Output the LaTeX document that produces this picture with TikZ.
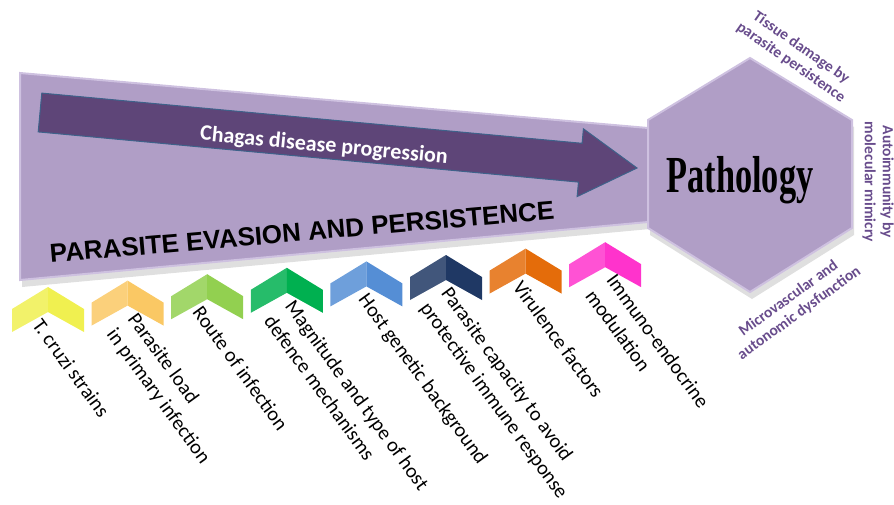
\documentclass[tikz,border=0pt]{standalone}
\usepackage{fontspec}
\setmainfont{Carlito}
\newfontfamily\headfont{Liberation Sans}
\newfontfamily\pathfont{Liberation Serif}
\usetikzlibrary{shadows}
\definecolor{white}{RGB}{255,255,255}
\definecolor{black}{RGB}{0,0,0}
\definecolor{evasion_purple}{RGB}{176,158,198}
\definecolor{evasion_light}{RGB}{206,193,224}
\definecolor{progress_purple}{RGB}{94,69,120}
\definecolor{progress_edge}{RGB}{62,98,138}
\definecolor{outcome_purple}{RGB}{104,76,140}
\definecolor{strain_yellow}{RGB}{240,240,80}
\definecolor{load_orange}{RGB}{250,200,100}
\definecolor{route_green}{RGB}{146,208,80}
\definecolor{host_green}{RGB}{0,176,80}
\definecolor{genetic_blue}{RGB}{85,142,213}
\definecolor{capacity_navy}{RGB}{31,56,100}
\definecolor{virulence_orange}{RGB}{228,108,10}
\definecolor{immuno_pink}{RGB}{255,51,204}

\tikzset{
	shaded/.style={fill=evasion_purple,draw=evasion_light,line width=2pt,drop shadow={opacity=0.25,shadow xshift=2pt,shadow yshift=-7pt}},
	factor/.style={rotate=-54,anchor=north west,align=left,inner sep=0pt,font=\fontsize{20.3}{26}\selectfont},
	outcome/.style={text=outcome_purple,align=center,inner sep=0pt,font=\bfseries\fontsize{15.5}{18}\selectfont}
}

\begin{document}
\begin{tikzpicture}[x=1pt,y=-1pt]
	\useasboundingbox (0,0) rectangle (894,504);

	\path[shaded] (20,73) -- (648,128) -- (648,222) -- (20,280) -- cycle;
	\path[shaded] (750,58) -- (852,120) -- (852,228) -- (750,292) -- (648,228) -- (648,120) -- cycle;

	\path[fill=progress_purple,draw=progress_edge,line width=1pt] (41.8,93.1) -- (582.1,143.3) -- (583.4,128.8) -- (637,168) -- (577.1,196.6) -- (578.5,182.1) -- (38.2,131.9) -- cycle;

	\node[rotate=-5.5,text=white,font=\bfseries\fontsize{22}{22}\selectfont] (progression) at (324,146) {Chagas disease progression};
	\node[rotate=5,font=\headfont\bfseries\fontsize{26}{26}\selectfont] (evasion) at (302,232) {PARASITE EVASION AND PERSISTENCE};
	\node[xscale=0.66,font=\pathfont\bfseries\fontsize{52}{52}\selectfont] (pathology) at (740,180) {Pathology};

	\node[outcome,rotate=-35] (damage) at (796,55) {Tissue damage by\\parasite persistence};
	\node[outcome,rotate=-90] (mimicry) at (878,182) {Autoimmunity by\\molecular mimicry};
	\node[outcome,rotate=36] (dysfunction) at (794,306) {Microvascular and\\autonomic dysfunction};

	\foreach \i/\col in {0/strain_yellow,1/load_orange,2/route_green,3/host_green,4/genetic_blue,5/capacity_navy,6/virulence_orange,7/immuno_pink} {
		\pgfmathsetmacro{\ax}{48+79.6*\i}
		\pgfmathsetmacro{\ay}{287-6.4*\i}
		\fill[\col!85!white] (\ax-36,\ay+22) -- (\ax,\ay) -- (\ax,\ay+25) -- (\ax-36,\ay+45) -- cycle;
		\fill[\col] (\ax,\ay) -- (\ax+36,\ay+22) -- (\ax+36,\ay+45) -- (\ax,\ay+25) -- cycle;
	}

	\foreach \i/\dx/\txt in {0/-5/{T. cruzi strains},1/11/{Parasite load\\in primary infection},2/-4/{Route of infection},3/9/{Magnitude and type of host\\defence mechanisms},4/3/{Host genetic background},5/6/{Parasite capacity to avoid\\protective immune response},6/-2/{Virulence factors},7/12/{Immuno-endocrine\\modulation}} {
		\pgfmathsetmacro{\lx}{48+79.6*\i+\dx}
		\pgfmathsetmacro{\ly}{287-6.4*\i+30}
		\node[factor] (factor\i) at (\lx,\ly) {\txt};
	}
\end{tikzpicture}
\end{document}
